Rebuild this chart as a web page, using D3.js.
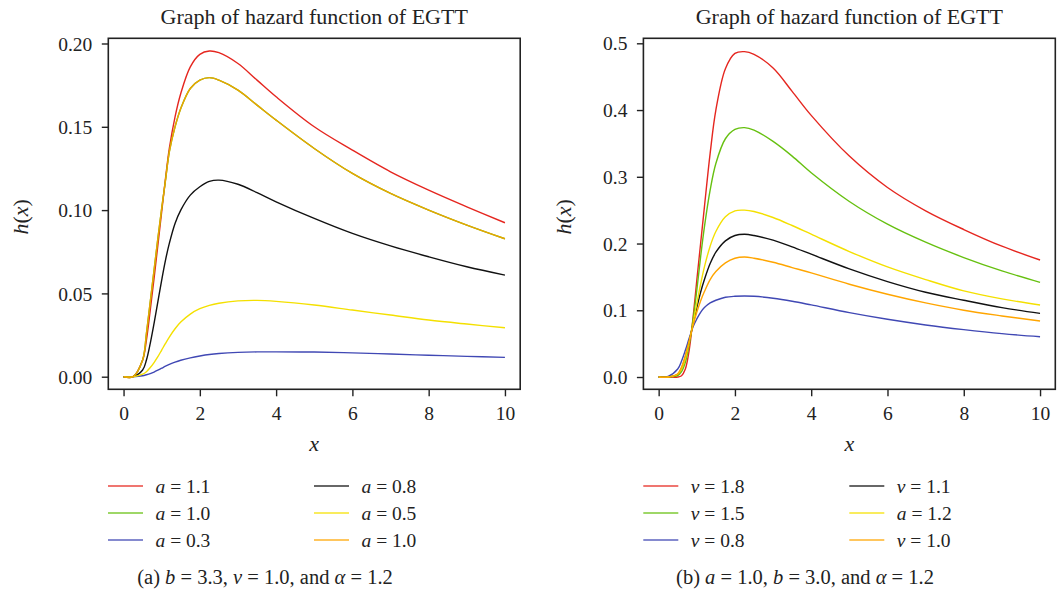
<!DOCTYPE html>
<html>
<head>
<meta charset="utf-8">
<script src="https://cdn.jsdelivr.net/npm/d3@7/dist/d3.min.js"></script>
<style>
  html, body { margin: 0; padding: 0; background: #fff; }
  svg { display: block; }
  text { font-family: "Liberation Serif", "DejaVu Serif", serif; fill: #222; }
</style>
</head>
<body>
<svg id="chart" width="1059" height="594"></svg>
<script>
// ---------- data ----------
const xGrid = [0, 0.25, 0.5, 0.6, 0.7, 0.8, 0.9, 1.0, 1.1, 1.2, 1.35, 1.5, 1.75, 2.0, 2.25, 2.5, 3.0, 3.5, 4, 5, 6, 7, 8, 9, 10];

// panel (a): b = 3.3, v = 1.0, alpha = 1.2
const hA11 = [0, 0, 0.010, 0.022, 0.040, 0.059, 0.079, 0.099, 0.119, 0.137, 0.156, 0.170, 0.186, 0.1935, 0.1955, 0.1945, 0.188, 0.178, 0.168, 0.150, 0.136, 0.123, 0.112, 0.102, 0.0924];
const hA10g = [0, 0, 0.010, 0.026, 0.045, 0.064, 0.083, 0.101, 0.118, 0.135, 0.150, 0.161, 0.173, 0.178, 0.1795, 0.178, 0.172, 0.163, 0.154, 0.137, 0.122, 0.110, 0.100, 0.091, 0.0828];
const hA03 = [0, 0, 0.0006, 0.0012, 0.0019, 0.0028, 0.0039, 0.0051, 0.0063, 0.0074, 0.0088, 0.0099, 0.0113, 0.0124, 0.0133, 0.0139, 0.0146, 0.0149, 0.0149, 0.0148, 0.0143, 0.0136, 0.0129, 0.0122, 0.0116];
const hA08 = [0, 0, 0.004, 0.010, 0.020, 0.032, 0.045, 0.058, 0.070, 0.080, 0.092, 0.100, 0.109, 0.114, 0.1172, 0.118, 0.1155, 0.1105, 0.105, 0.095, 0.086, 0.0785, 0.072, 0.066, 0.061];
const hA05 = [0, 0, 0.0015, 0.003, 0.0055, 0.0085, 0.012, 0.016, 0.020, 0.0238, 0.0288, 0.0328, 0.0376, 0.0408, 0.0428, 0.0441, 0.0455, 0.0458, 0.0452, 0.043, 0.040, 0.037, 0.034, 0.0316, 0.0294];
const hA10o = [0, 0, 0.010, 0.026, 0.045, 0.064, 0.083, 0.101, 0.118, 0.135, 0.150, 0.161, 0.173, 0.178, 0.1795, 0.178, 0.172, 0.163, 0.154, 0.137, 0.122, 0.110, 0.100, 0.091, 0.0828];

// panel (b): a = 1.0, b = 3.0, alpha = 1.2
const hV18 = [0, 0, 0, 0.002, 0.012, 0.040, 0.088, 0.145, 0.200, 0.255, 0.335, 0.400, 0.462, 0.485, 0.4875, 0.4835, 0.463, 0.428, 0.392, 0.331, 0.284, 0.249, 0.221, 0.196, 0.1753];
const hV15 = [0, 0, 0.002, 0.008, 0.022, 0.048, 0.085, 0.130, 0.180, 0.225, 0.280, 0.320, 0.357, 0.371, 0.3736, 0.370, 0.353, 0.331, 0.306, 0.263, 0.229, 0.202, 0.179, 0.159, 0.1419];
const hV08 = [0, 0.001, 0.012, 0.024, 0.040, 0.058, 0.075, 0.087, 0.097, 0.104, 0.111, 0.115, 0.1195, 0.121, 0.1214, 0.121, 0.118, 0.1135, 0.108, 0.0965, 0.0865, 0.078, 0.071, 0.065, 0.0604];
const hV11 = [0, 0, 0.004, 0.013, 0.030, 0.053, 0.079, 0.104, 0.127, 0.146, 0.170, 0.187, 0.204, 0.212, 0.2138, 0.212, 0.205, 0.195, 0.184, 0.162, 0.143, 0.127, 0.115, 0.104, 0.0954];
const hA12 = [0, 0, 0.004, 0.012, 0.028, 0.052, 0.080, 0.110, 0.139, 0.165, 0.196, 0.218, 0.240, 0.249, 0.250, 0.248, 0.239, 0.227, 0.214, 0.188, 0.165, 0.146, 0.129, 0.117, 0.1079];
const hV10 = [0, 0, 0.005, 0.015, 0.032, 0.054, 0.077, 0.097, 0.114, 0.128, 0.146, 0.158, 0.171, 0.178, 0.1798, 0.178, 0.172, 0.164, 0.156, 0.139, 0.124, 0.111, 0.100, 0.0915, 0.0839];

const xTicks = [0, 2, 4, 6, 8, 10];
const xTickLabels = ["0", "2", "4", "6", "8", "10"];
const yTicksA = [0, 0.05, 0.10, 0.15, 0.20];
const yTickLabelsA = ["0.00", "0.05", "0.10", "0.15", "0.20"];
const yTicksB = [0, 0.1, 0.2, 0.3, 0.4, 0.5];
const yTickLabelsB = ["0.0", "0.1", "0.2", "0.3", "0.4", "0.5"];

const legendA = ["a = 1.1", "a = 1.0", "a = 0.3", "a = 0.8", "a = 0.5", "a = 1.0"];
const legendB = ["ν = 1.8", "ν = 1.5", "ν = 0.8", "ν = 1.1", "a = 1.2", "ν = 1.0"];
const titleText = "Graph of hazard function of EGTT";

// ---------- styles ----------
const COLORS = ["#E5261F", "#66C010", "#4048B4", "#111111", "#F4E000", "#FFA500"];
const FS = 19.5;

const svg = d3.select("#chart");

function panel(cfg) {
  const x = d3.scaleLinear().domain([-0.4, 10.4]).range([cfg.left, cfg.right]);
  const y = d3.scaleLinear().domain(cfg.yDomain).range([cfg.bottom, cfg.top]);
  const g = svg.append("g");

  // title
  g.append("text")
    .attr("x", (cfg.left + cfg.right) / 2).attr("y", 24)
    .attr("text-anchor", "middle").style("font-size", "22px")
    .text(titleText);

  // curves
  const line = d3.line().x((d, i) => x(xGrid[i])).y(d => y(d)).curve(d3.curveCatmullRom.alpha(0.5));
  cfg.series.forEach((s, i) => {
    g.append("path").datum(s)
      .attr("d", line)
      .attr("fill", "none")
      .attr("stroke", cfg.colors[i])
      .attr("stroke-width", 1.4);
  });

  // box
  g.append("rect")
    .attr("x", cfg.left).attr("y", cfg.top)
    .attr("width", cfg.right - cfg.left).attr("height", cfg.bottom - cfg.top)
    .attr("fill", "none").attr("stroke", "#222").attr("stroke-width", 1.6);

  // axes
  const ax = g.append("g").attr("transform", `translate(0,${cfg.bottom})`)
    .call(d3.axisBottom(x).tickValues(xTicks).tickFormat((d, i) => xTickLabels[i]).tickSize(7).tickPadding(10));
  const ay = g.append("g").attr("transform", `translate(${cfg.left},0)`)
    .call(d3.axisLeft(y).tickValues(cfg.yTicks).tickFormat((d, i) => cfg.yLabels[i]).tickSize(6.5).tickPadding(9.5));
  [ax, ay].forEach(a => {
    a.select(".domain").remove();
    a.selectAll("line").attr("stroke", "#222").attr("stroke-width", 1.4);
    a.selectAll("text").attr("fill", "#222")
      .style("font-family", '"Liberation Serif", "DejaVu Serif", serif')
      .style("font-size", FS + "px");
  });
  ay.selectAll("text").attr("dy", "0.34em");

  // axis titles
  g.append("text")
    .attr("x", (cfg.left + cfg.right) / 2).attr("y", 451)
    .attr("text-anchor", "middle").style("font-size", "22px").style("font-style", "italic")
    .text("x");
  g.append("text")
    .attr("transform", `translate(${cfg.yLabelX},${(cfg.top + cfg.bottom) / 2 + 3}) rotate(-90)`)
    .attr("text-anchor", "middle").style("font-size", "22px")
    .call(t => {
      t.append("tspan").style("font-style", "italic").text("h");
      t.append("tspan").text("(");
      t.append("tspan").style("font-style", "italic").text("x");
      t.append("tspan").text(")");
    });

  // legend
  const rowsY = [486, 513, 540];
  cfg.legend.forEach((lab, i) => {
    const col = Math.floor(i / 3), row = i % 3;
    const lx = cfg.legX[col];
    const ly = rowsY[row];
    g.append("line")
      .attr("x1", lx).attr("x2", lx + 35).attr("y1", ly).attr("y2", ly)
      .attr("stroke", cfg.legColors ? cfg.legColors[i] : cfg.colors[i])
      .attr("stroke-width", 1.4).attr("stroke-opacity", 0.85);
    const parts = lab.split(" = ");
    const t = g.append("text").attr("x", lx + 47.5).attr("y", ly + 6.5).style("font-size", FS + "px");
    t.append("tspan").style("font-style", "italic").text(parts[0]);
    t.append("tspan").text(" = " + parts[1]);
  });

  // caption
  const cap = g.append("text")
    .attr("x", cfg.capX).attr("y", 584)
    .attr("text-anchor", "middle").style("font-size", "20.5px");
  cfg.caption.forEach(p => {
    cap.append("tspan").style("font-style", p[1] ? "italic" : "normal").text(p[0]);
  });
}

panel({
  left: 108.3, right: 520.2, top: 38.3, bottom: 389.3,
  yDomain: [-0.00756, 0.20312],
  yTicks: yTicksA, yLabels: yTickLabelsA,
  series: [hA11, hA10g, hA03, hA08, hA05, hA10o],
  colors: ["#E5261F", "#66C010", "#4048B4", "#111111", "#F4E000", "#EDA400"],
  legColors: COLORS,
  legend: legendA,
  legX: [108, 314],
  yLabelX: 28,
  capX: 265,
  caption: [["(a) ", false], ["b", true], [" = 3.3, ", false], ["ν", true], [" = 1.0, and ", false], ["α", true], [" = 1.2", false]]
});

panel({
  left: 643.4, right: 1055.3, top: 38.3, bottom: 389.3,
  yDomain: [-0.0184, 0.5075],
  yTicks: yTicksB, yLabels: yTickLabelsB,
  series: [hV18, hV15, hV08, hV11, hA12, hV10],
  colors: COLORS,
  legend: legendB,
  legX: [643.3, 849.3],
  yLabelX: 571,
  capX: 805,
  caption: [["(b) ", false], ["a", true], [" = 1.0, ", false], ["b", true], [" = 3.0, and ", false], ["α", true], [" = 1.2", false]]
});
</script>
</body>
</html>
